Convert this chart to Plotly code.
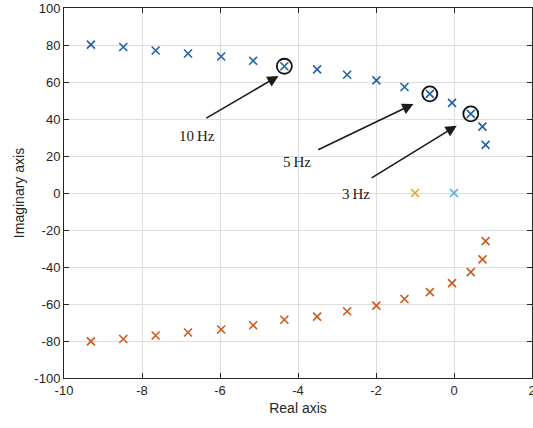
import plotly.graph_objects as go

# Pole locations
upper_real = [-9.31, -8.48, -7.65, -6.82, -5.97, -5.15, -4.35, -3.51, -2.74, -1.99,
              -1.27, -0.62, -0.05, 0.43, 0.73, 0.81]
upper_imag = [80.2, 78.9, 77.0, 75.4, 73.8, 71.5, 68.5, 66.8, 63.9, 60.9,
              57.3, 53.6, 48.7, 42.8, 35.9, 26.0]
lower_real = [-9.31, -8.48, -7.65, -6.82, -5.97, -5.15, -4.35, -3.51, -2.74, -1.99,
              -1.27, -0.62, -0.05, 0.43, 0.73, 0.81]
lower_imag = [-80.2, -78.9, -77.0, -75.4, -73.8, -71.5, -68.5, -66.8, -63.9, -60.9,
              -57.3, -53.6, -48.7, -42.8, -35.9, -26.0]
real_pole_a = ([-1.0], [0.0])
real_pole_b = ([0.0], [0.0])

marked_idx = [6, 11, 13]
marked_labels = ["10 Hz", "5 Hz", "3 Hz"]

x_ticks = [-10, -8, -6, -4, -2, 0, 2]
x_ticktext = ["-10", "-8", "-6", "-4", "-2", "0", "2"]
y_ticks = [-100, -80, -60, -40, -20, 0, 20, 40, 60, 80, 100]
y_ticktext = ["-100", "-80", "-60", "-40", "-20", "0", "20", "40", "60", "80", "100"]

BLUE = "#1c62ad"
ORANGE = "#cc5a1e"
YELLOW = "#e3aa1e"
CYAN = "#4db5d2"


def xmarker(color):
    return dict(symbol="x-thin", size=8, color=color, line=dict(width=1.6, color=color))


fig = go.Figure()
fig.add_trace(go.Scatter(x=upper_real, y=upper_imag, mode="markers", marker=xmarker(BLUE),
                         showlegend=False, hoverinfo="skip"))
fig.add_trace(go.Scatter(x=lower_real, y=lower_imag, mode="markers", marker=xmarker(ORANGE),
                         showlegend=False, hoverinfo="skip"))
fig.add_trace(go.Scatter(x=real_pole_a[0], y=real_pole_a[1], mode="markers", marker=xmarker(YELLOW),
                         showlegend=False, hoverinfo="skip"))
fig.add_trace(go.Scatter(x=real_pole_b[0], y=real_pole_b[1], mode="markers", marker=xmarker(CYAN),
                         showlegend=False, hoverinfo="skip"))
fig.add_trace(go.Scatter(x=[upper_real[i] for i in marked_idx],
                         y=[upper_imag[i] for i in marked_idx],
                         mode="markers",
                         marker=dict(symbol="circle-open", size=15, color="#111111",
                                     line=dict(width=1.8, color="#111111")),
                         showlegend=False, hoverinfo="skip"))

# arrows (tail -> head) and label positions, in data coordinates
arrow_tail = [(-6.39, 40.0), (-3.52, 23.0), (-2.15, 7.7)]
arrow_head = [(-4.50, 63.3), (-1.04, 48.1), (0.07, 36.4)]
label_pos = [(-6.60, 31.0), (-4.02, 16.7), (-2.51, -0.3)]

annotations = []
for (tx, ty), (hx, hy), (lx, ly), lab in zip(arrow_tail, arrow_head, label_pos, marked_labels):
    annotations.append(dict(x=hx, y=hy, ax=tx, ay=ty, xref="x", yref="y", axref="x", ayref="y",
                            text="", showarrow=True, arrowhead=2, arrowsize=1.4, arrowwidth=1.6,
                            arrowcolor="#1a1a1a", standoff=0, startstandoff=0))
    annotations.append(dict(x=lx, y=ly, xref="x", yref="y", text=lab.replace(" ", "\u2009"),
                            showarrow=False,
                            font=dict(family="Liberation Serif, Times New Roman, serif", size=15,
                                      color="#1a1a1a")))

axis_common = dict(showline=True, linecolor="#262626", linewidth=1, mirror="allticks",
                   ticks="inside", ticklen=5, tickcolor="#262626", tickwidth=1,
                   showgrid=True, gridcolor="#dedede", gridwidth=1, zeroline=False,
                   tickfont=dict(family="Liberation Sans, Arial, sans-serif", size=13, color="#262626"),
                   ticklabeloverflow="allow", automargin=False)

fig.update_layout(
    width=533, height=428,
    margin=dict(l=64, r=1, t=8, b=50),
    paper_bgcolor="white", plot_bgcolor="white",
    xaxis=dict(range=[-10, 2], tickvals=x_ticks, ticktext=x_ticktext,
               title=dict(text="Real axis", standoff=6,
                          font=dict(family="Liberation Sans, Arial, sans-serif", size=14, color="#262626")),
               **axis_common),
    yaxis=dict(range=[-100, 100], tickvals=y_ticks, ticktext=y_ticktext,
               title=dict(text="Imaginary axis", standoff=6,
                          font=dict(family="Liberation Sans, Arial, sans-serif", size=14, color="#262626")),
               **axis_common),
    annotations=annotations,
)

fig.write_html("out.html")
